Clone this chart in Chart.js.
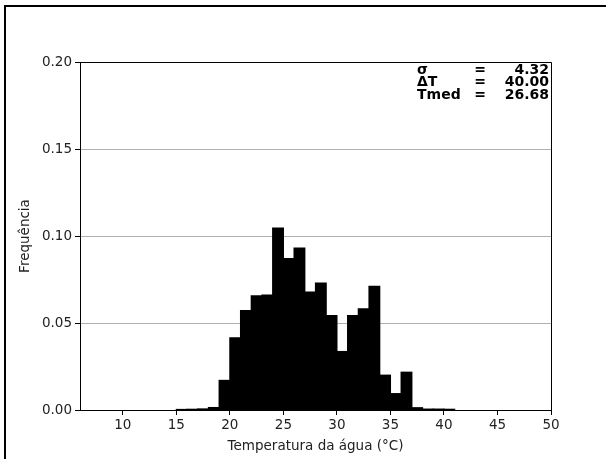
<!DOCTYPE html>
<html>
<head>
<meta charset="utf-8">
<script src="https://cdn.jsdelivr.net/npm/chart.js@4"></script>
<style>
  html, body { margin: 0; padding: 0; background: #fff; }
  #wrap { position: relative; width: 606px; height: 459px; }
  #frame { position: absolute; left: 4px; top: 5px; right: -10px; bottom: -10px;
           border-left: 2px solid #000; border-top: 2px solid #000; pointer-events: none; }
</style>
</head>
<body>
<div id="wrap">
  <canvas id="chart" width="606" height="459"></canvas>
  <div id="frame"></div>
</div>
<script>
// Histogram data (bin centres, 1 °C wide bins)
const binCenters = [8.5, 9.5, 10.5, 11.5, 12.5, 13.5, 14.5, 15.5, 16.5, 17.5,
  18.5, 19.5, 20.5, 21.5, 22.5, 23.5, 24.5, 25.5, 26.5, 27.5,
  28.5, 29.5, 30.5, 31.5, 32.5, 33.5, 34.5, 35.5, 36.5, 37.5,
  38.5, 39.5, 40.5, 41.5, 42.5, 43.5, 44.5, 45.5, 46.5, 47.5];
const frequencies = [0, 0, 0, 0, 0, 0, 0, 0.0003, 0.0004, 0.0006,
  0.0014, 0.017, 0.0414, 0.0571, 0.0656, 0.066, 0.1045, 0.087, 0.0931, 0.0677,
  0.0729, 0.0542, 0.0336, 0.0542, 0.0582, 0.071, 0.020, 0.0094, 0.0217, 0.0013,
  0.0005, 0.0005, 0.0004, 0, 0, 0, 0, 0, 0, 0];
const xTicks = [10, 15, 20, 25, 30, 35, 40, 45, 50];
const yTicks = [0, 0.05, 0.10, 0.15, 0.20];
const statLabels = ["σ", "ΔT", "Tmed"];
const statValues = ["4.32", "40.00", "26.68"];

const FONT = "'DejaVu Sans', sans-serif";

// top/right spines + stats text
const extras = {
  id: "extras",
  afterDraw(chart) {
    const { ctx, chartArea: a } = chart;
    ctx.save();
    ctx.strokeStyle = "#000";
    ctx.lineWidth = 1;
    ctx.beginPath();
    ctx.moveTo(a.left, a.top + 0.5);
    ctx.lineTo(a.right + 0.5, a.top + 0.5);
    ctx.lineTo(a.right + 0.5, a.bottom);
    ctx.stroke();

    ctx.fillStyle = "#000";
    ctx.font = "bold 14px " + FONT;
    ctx.textBaseline = "middle";
    statLabels.forEach((lab, i) => {
      const y = a.top + 8 + i * 12.5;
      ctx.textAlign = "left";
      ctx.fillText(lab, 417, y);
      ctx.textAlign = "center";
      ctx.fillText("=", 480, y);
      ctx.textAlign = "right";
      ctx.fillText(statValues[i], 549, y);
    });
    ctx.restore();
  }
};

document.addEventListener("DOMContentLoaded", () => {
  const ctx = document.getElementById("chart");
  new Chart(ctx, {
    type: "bar",
    data: {
      datasets: [{
        data: binCenters.map((x, i) => ({ x: x, y: frequencies[i] })),
        backgroundColor: "#000",
        borderWidth: 0,
        inflateAmount: (c) => (c.raw && c.raw.y > 0 ? 0.6 : 0),
        barPercentage: 1,
        categoryPercentage: 1
      }]
    },
    options: {
      responsive: false,
      animation: false,
      layout: { padding: { top: 62, right: 55, left: 13, bottom: 0 } },
      plugins: {
        legend: { display: false },
        tooltip: { enabled: false }
      },
      scales: {
        x: {
          type: "linear",
          min: 6,
          max: 50,
          offset: false,
          afterBuildTicks: (s) => { s.ticks = xTicks.map(v => ({ value: v })); },
          afterFit: (s) => { s.height = 49; },
          grid: { offset: false, drawOnChartArea: false, tickColor: "#000", tickLength: 5 },
          border: { color: "#000", width: 1 },
          ticks: { color: "#222", font: { family: FONT, size: 13.5 }, padding: 2, maxRotation: 0 },
          title: { display: true, text: "Temperatura da água (°C)", color: "#222",
                   font: { family: FONT, size: 13.5 }, padding: { top: 2, bottom: 4 } }
        },
        y: {
          min: 0,
          max: 0.2,
          afterBuildTicks: (s) => { s.ticks = yTicks.map(v => ({ value: v })); },
          afterFit: (s) => { s.width = 67; },
          grid: { color: "#b0b0b0", lineWidth: 1, tickColor: "#000", tickLength: 5 },
          border: { color: "#000", width: 1 },
          ticks: { color: "#222", font: { family: FONT, size: 13.5 }, padding: 3,
                   callback: (v) => Number(v).toFixed(2) },
          title: { display: true, text: "Frequência", color: "#222",
                   font: { family: FONT, size: 13.5 }, padding: { top: 4, bottom: 4 } }
        }
      }
    },
    plugins: [extras]
  });
});
</script>
</body>
</html>
